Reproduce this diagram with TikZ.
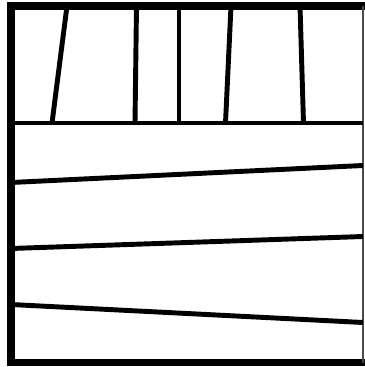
\documentclass[tikz,border=0pt]{standalone}
\usepackage{tikz}

\begin{document}
\begin{tikzpicture}[x=0.025cm, y=-0.025cm,
  frame/.style={line width=5pt, line join=miter},
  plank/.style={line width=3.5pt}]

  \useasboundingbox (0,0) rectangle (365,367);

  % outer frame (right side only a thin edge)
  \draw[frame] (366,6) -- (11,6) -- (11,362.5) -- (366,362.5);
  \draw[black!70, line width=0.8pt] (363,6) -- (363,362.5);

  % divider between the two parts
  \draw[plank] (11,123) -- (363,123);

  % upright boards in the top part
  \draw[plank] (67,6) -- (52,123);
  \draw[plank] (136.5,6) -- (135,123);
  \draw[plank] (179,6) -- (179,123);
  \draw[plank] (231,6) -- (225.5,123);
  \draw[plank] (300,6) -- (303.5,123);

  % slanted boards in the bottom part
  \draw[plank] (11,182.5) -- (363,165.5);
  \draw[plank] (11,248.5) -- (363,236.5);
  \draw[plank] (11,304.5) -- (363,322.5);

\end{tikzpicture}
\end{document}
